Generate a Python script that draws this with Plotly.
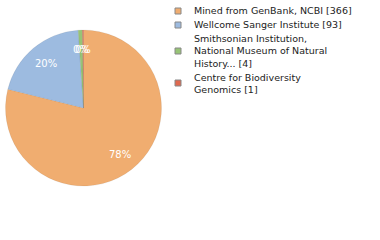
import math
import plotly.graph_objects as go

labels = ["Mined from GenBank, NCBI [366]", "Wellcome Sanger Institute [93]",
          "Smithsonian Institution,<br>National Museum of Natural<br>History... [4]",
          "Centre for Biodiversity<br>Genomics [1]"]
values = [366, 93, 4, 1]
colors = ["#f0ad70", "#9dbbe0", "#97c476", "#e0694f"]

total = sum(values)
pct_text = [f"{int(v * 100 // total)}%" for v in values]

W, H = 380, 240
dom_x = [5 / W, 162 / W]
dom_y = [1 - 186 / H, 1 - 30 / H]

fig = go.Figure(go.Pie(
    labels=labels, values=values, sort=False, direction="clockwise", rotation=0,
    marker=dict(colors=colors, line=dict(color="rgba(0,0,0,0.12)", width=0.5)),
    textinfo="none", hoverinfo="skip", showlegend=False,
    domain=dict(x=dom_x, y=dom_y),
))

# percent labels placed at 0.75 radius at slice mid-angle
cx = (dom_x[0] + dom_x[1]) / 2 * W
cy = (1 - (dom_y[0] + dom_y[1]) / 2) * H
r = min((dom_x[1] - dom_x[0]) * W, (dom_y[1] - dom_y[0]) * H) / 2
cum = 0
for v, t in zip(values, pct_text):
    mid = (cum + v / 2) / total * 2 * math.pi
    cum += v
    px = cx + 0.75 * r * math.sin(mid)
    py = cy - 0.75 * r * math.cos(mid)
    fig.add_annotation(x=px / W, y=1 - py / H, xref="paper", yref="paper",
                       xanchor="center", yanchor="middle",
                       text=t, showarrow=False,
                       font=dict(family="DejaVu Sans", size=10, color="white"))

# manual legend (square + text), laid out from the label list
line_h = 12
y_line = 11  # centre of first text line, px from top
sq = 6
for lab, col in zip(labels, colors):
    n = lab.count("<br>") + 1
    y_mid = y_line + (n - 1) * line_h / 2
    fig.add_shape(type="rect", xref="paper", yref="paper",
                  x0=175 / W, x1=(175 + sq) / W,
                  y0=1 - (y_mid - sq / 2) / H, y1=1 - (y_mid + sq / 2) / H,
                  fillcolor=col, line=dict(color="#888", width=1))
    fig.add_annotation(x=192 / W, y=1 - y_mid / H, xref="paper", yref="paper",
                       xanchor="left", yanchor="middle", align="left",
                       text=lab, showarrow=False,
                       font=dict(family="DejaVu Sans", size=9.5, color="#222"))
    y_line += n * line_h + 2

fig.update_layout(
    width=W, height=H, margin=dict(l=0, r=0, t=0, b=0),
    paper_bgcolor="white", plot_bgcolor="white",
    font=dict(family="DejaVu Sans", size=10, color="#222"),
)
fig.write_html("out.html")
